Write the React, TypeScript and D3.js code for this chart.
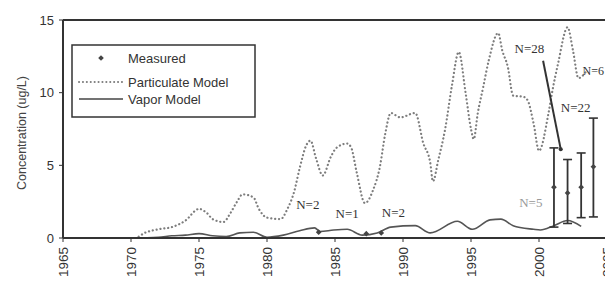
import * as d3 from "d3";
import { useEffect, useRef } from "react";

const partYears = [1968, 1970.3, 1971, 1972, 1973, 1974, 1975, 1975.6, 1976, 1976.8, 1977.3, 1977.8, 1978.2, 1979, 1979.4, 1980, 1981, 1981.5, 1982, 1982.4, 1982.9, 1983.2, 1983.6, 1984.1, 1984.7, 1985.1, 1985.9, 1986.2, 1986.6, 1987.2, 1987.8, 1988.3, 1988.7, 1989.1, 1989.8, 1990.9, 1991.5, 1992, 1992.2, 1992.6, 1993.1, 1993.6, 1994.1, 1994.6, 1995, 1995.2, 1995.5, 1995.9, 1996.3, 1997, 1997.3, 1997.7, 1998.1, 1998.9, 1999.2, 1999.6, 2000, 2000.7, 2001, 2001.4, 2002.1, 2002.5, 2002.9, 2003.5];
const partValues = [0, 0, 0.35, 0.6, 0.75, 1.2, 2.0, 1.7, 1.3, 1.1, 1.7, 2.5, 3.0, 2.8, 2.0, 1.4, 1.3, 2.0, 3.2, 4.8, 6.4, 6.7, 5.5, 4.3, 5.6, 6.2, 6.5, 6.2, 4.5, 2.4, 3.3, 4.9, 7.2, 8.6, 8.3, 8.6, 6.5, 5.2, 3.9, 5.4, 7.5, 10.5, 12.8, 10.0, 7.5, 6.8, 8.6, 10.4, 12.2, 14.1, 12.9, 11.8, 9.8, 9.7, 9.4, 7.9, 6.0, 8.6, 10.2, 12.0, 14.5, 12.9, 11.0, 11.5];

const vaporYears = [1970, 1972, 1973, 1974, 1975, 1976, 1977, 1978, 1979, 1980, 1981.2, 1982.4, 1983.5, 1983.9, 1984.9, 1985.9, 1987, 1988.1, 1989.1, 1990.9, 1992, 1994, 1995.1, 1996.4, 1997.2, 1998.1, 1999.6, 2000.1, 2001.1, 2002.1, 2003.1];
const vaporValues = [0, 0.05, 0.15, 0.2, 0.3, 0.15, 0.1, 0.35, 0.4, 0.05, 0.2, 0.5, 0.7, 0.45, 0.55, 0.6, 0.2, 0.35, 0.75, 0.85, 0.35, 1.15, 0.6, 1.25, 1.3, 0.85, 0.6, 0.55, 0.85, 1.2, 0.8];

const measYears = [1983.8, 1987.3, 1988.4, 2001.1, 2002.1, 2003.1, 2004];
const measValues = [0.4, 0.3, 0.35, 3.5, 3.1, 3.5, 4.9];
const measLow = [NaN, NaN, NaN, 0.75, 1.0, 1.4, 1.45];
const measHigh = [NaN, NaN, NaN, 6.2, 5.4, 5.85, 8.25];

const noteTexts = ["N=2", "N=1", "N=2", "N=5", "N=28", "N=22", "N=6"];
const noteYears = [1983, 1985.9, 1989.3, 1999.4, 1999.3, 2002.7, 2003.2];
const noteValues = [2.0, 1.4, 1.45, 2.1, 12.7, 8.7, 11.2];

const xTicks = [1965, 1970, 1975, 1980, 1985, 1990, 1995, 2000, 2005];
const yTicks = [0, 5, 10, 15];

const legendLabels = ["Measured", "Particulate Model", "Vapor Model"];

const W = 605;
const H = 282;

export default function App() {
  const ref = useRef<SVGSVGElement | null>(null);

  useEffect(() => {
    if (!ref.current) return;
    const svg = d3.select(ref.current);
    svg.selectAll("*").remove();

    const x = d3.scaleLinear().domain([1965, 2005]).range([63, 607]);
    const y = d3.scaleLinear().domain([0, 15]).range([238, 20]);
    const font = "'Liberation Sans', Arial, sans-serif";

    svg.append("rect").attr("width", W).attr("height", H).attr("fill", "#fff");

    // particulate model (dotted)
    const part = partYears.map((yr, i) => [yr, partValues[i]] as [number, number]);
    svg
      .append("path")
      .datum(part)
      .attr("fill", "none")
      .attr("stroke", "#7d7d7d")
      .attr("stroke-width", 2.2)
      .attr("stroke-linecap", "round")
      .attr("stroke-dasharray", "0.1,3.8")
      .attr("d", d3.line().x((d) => x(d[0])).y((d) => y(d[1])).curve(d3.curveMonotoneX));

    // vapor model
    const vap = vaporYears.map((yr, i) => [yr, vaporValues[i]] as [number, number]);
    svg
      .append("path")
      .datum(vap)
      .attr("fill", "none")
      .attr("stroke", "#555")
      .attr("stroke-width", 1.6)
      .attr("d", d3.line().x((d) => x(d[0])).y((d) => y(d[1])).curve(d3.curveMonotoneX));

    // axes frame
    const axisColor = "#333";
    svg.append("line").attr("x1", x(1965)).attr("x2", W).attr("y1", y(15)).attr("y2", y(15))
      .attr("stroke", axisColor).attr("stroke-width", 2);
    svg.append("line").attr("x1", x(1965)).attr("x2", x(1965)).attr("y1", y(15)).attr("y2", y(0))
      .attr("stroke", axisColor).attr("stroke-width", 2);
    svg.append("line").attr("x1", x(1965)).attr("x2", W).attr("y1", y(0)).attr("y2", y(0))
      .attr("stroke", axisColor).attr("stroke-width", 2);

    // y ticks
    yTicks.forEach((t) => {
      svg.append("line").attr("x1", x(1965) - 4).attr("x2", x(1965)).attr("y1", y(t)).attr("y2", y(t))
        .attr("stroke", axisColor).attr("stroke-width", 1);
      svg.append("text").attr("x", x(1965) - 9).attr("y", y(t)).attr("dy", "0.35em")
        .attr("text-anchor", "end").attr("font-family", font).attr("font-size", 13)
        .attr("fill", "#333").text(String(t));
    });

    // x ticks
    xTicks.forEach((t) => {
      svg.append("line").attr("x1", x(t)).attr("x2", x(t)).attr("y1", y(0)).attr("y2", y(0) + 4)
        .attr("stroke", axisColor).attr("stroke-width", 1);
      svg.append("text")
        .attr("transform", `translate(${x(t)},${y(0) + 9}) rotate(-90)`)
        .attr("dy", "0.35em").attr("text-anchor", "end")
        .attr("font-family", font).attr("font-size", 13.5).attr("fill", "#333").text(String(t));
    });

    svg.append("text")
      .attr("transform", `translate(22,${(y(0) + y(15)) / 2 + 4}) rotate(-90)`)
      .attr("dy", "0.35em").attr("text-anchor", "middle")
      .attr("font-family", font).attr("font-size", 12.5).attr("fill", "#444")
      .text("Concentration (ug/L)");

    // measured with error bars
    const diamond = d3.symbol().type(d3.symbolSquare).size(16);
    measYears.forEach((yr, i) => {
      const cx = x(yr);
      if (!isNaN(measLow[i])) {
        svg.append("line").attr("x1", cx).attr("x2", cx).attr("y1", y(measLow[i])).attr("y2", y(measHigh[i]))
          .attr("stroke", "#333").attr("stroke-width", 1.8);
        [measLow[i], measHigh[i]].forEach((v) => {
          svg.append("line").attr("x1", cx - 4.5).attr("x2", cx + 4.5).attr("y1", y(v)).attr("y2", y(v))
            .attr("stroke", "#333").attr("stroke-width", 1.6);
        });
      }
      svg.append("path").attr("d", diamond)
        .attr("transform", `translate(${cx},${y(measValues[i])}) rotate(45)`)
        .attr("fill", "#444");
    });

    // N annotations
    noteTexts.forEach((t, i) => {
      svg.append("text")
        .attr("x", x(noteYears[i])).attr("y", y(noteValues[i]))
        .attr("text-anchor", i === 6 ? "start" : "middle")
        .attr("font-family", "'Liberation Serif', 'Times New Roman', serif")
        .attr("font-size", i === 6 ? 12 : 13)
        .attr("fill", i === 3 ? "#999" : "#333").text(t);
    });

    // arrow from N=28
    svg.append("line").attr("x1", x(2000.3)).attr("y1", y(12.2)).attr("x2", x(2001.6)).attr("y2", y(6.1))
      .attr("stroke", "#333").attr("stroke-width", 2);
    svg.append("circle").attr("cx", x(2001.6)).attr("cy", y(6.1)).attr("r", 2).attr("fill", "#333");

    // legend
    const lg = svg.append("g");
    lg.append("rect").attr("x", 72).attr("y", 45).attr("width", 183).attr("height", 72)
      .attr("fill", "#fff").attr("stroke", "#333").attr("stroke-width", 1.5);
    const rows = [58, 82, 99];
    lg.append("path").attr("d", diamond).attr("transform", `translate(101,${rows[0]}) rotate(45)`).attr("fill", "#444");
    lg.append("line").attr("x1", 79).attr("x2", 123).attr("y1", rows[1]).attr("y2", rows[1])
      .attr("stroke", "#7d7d7d").attr("stroke-width", 2).attr("stroke-linecap", "round")
      .attr("stroke-dasharray", "0.1,3.8");
    lg.append("line").attr("x1", 79).attr("x2", 123).attr("y1", rows[2]).attr("y2", rows[2])
      .attr("stroke", "#444").attr("stroke-width", 1.6);
    legendLabels.forEach((l, i) => {
      lg.append("text").attr("x", 128).attr("y", rows[i]).attr("dy", "0.35em")
        .attr("font-family", font).attr("font-size", 13).attr("fill", "#333").text(l);
    });
  }, []);

  return (
    <svg
      ref={ref}
      width={W}
      height={H}
      style={{ position: "absolute", left: 0, top: 0 }}
    />
  );
}
